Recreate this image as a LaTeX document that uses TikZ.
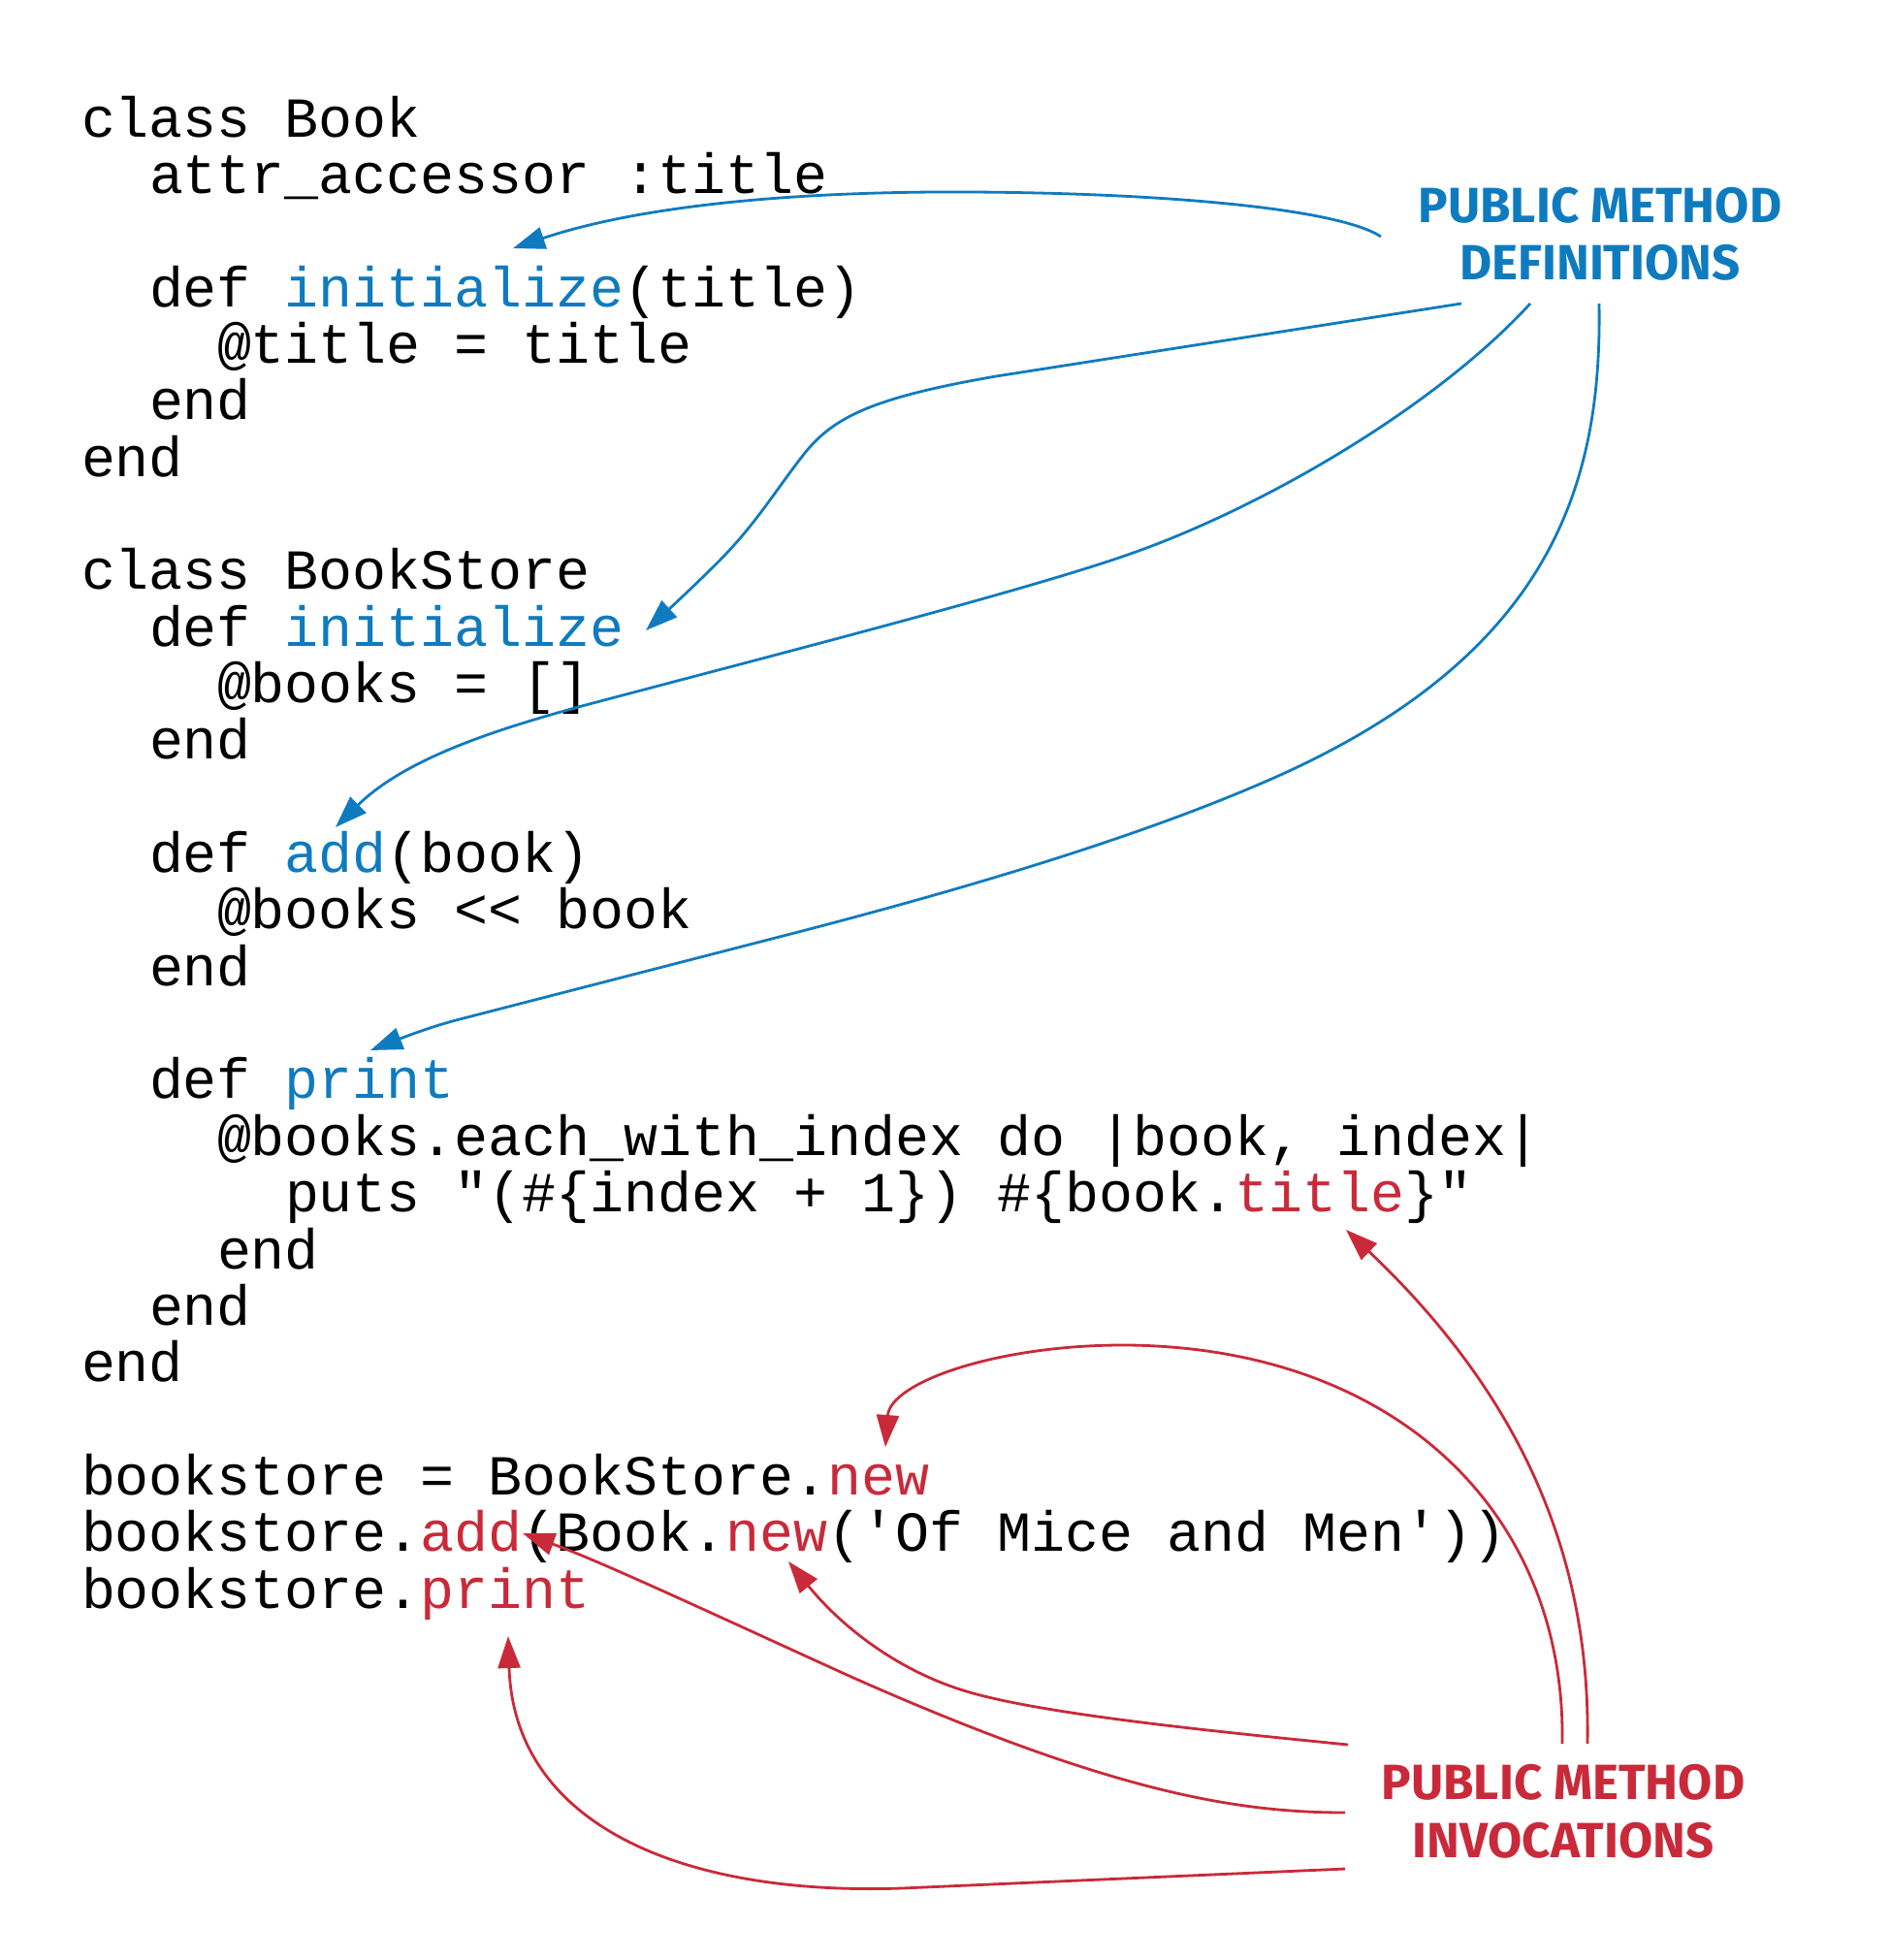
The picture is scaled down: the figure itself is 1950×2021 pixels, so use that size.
\documentclass[tikz,border=0pt]{standalone}
\usepackage{fontspec}
\setmonofont{Liberation Mono}
\newfontfamily\handfont{Fira Sans}
\usetikzlibrary{arrows.meta}
\definecolor{defblue}{RGB}{15,123,191}
\definecolor{callred}{RGB}{201,42,57}
\newcommand{\bw}[1]{\textcolor{defblue}{#1}}
\newcommand{\rw}[1]{\textcolor{callred}{#1}}
\tikzset{
  codeline/.style={anchor=base west, inner sep=0pt, outer sep=0pt,
    font=\fontsize{58.3}{58.3}\selectfont\ttfamily},
  handlabel/.style={anchor=base, inner sep=0pt, outer sep=0pt,
    font=\fontsize{51}{58}\selectfont\handfont\bfseries},
  conn/.style={line width=2.8pt, -{Triangle[length=33pt,width=23pt]}},
}
\begin{document}
\begin{tikzpicture}[x=1pt,y=-1pt]
\fill[white] (0,0) rectangle (1950,2021);
\useasboundingbox (0,0) rectangle (1950,2021);

% code
\node[codeline] (c1)  at (84,141)     {class Book};
\node[codeline] (c2)  at (154,199.35) {attr\_accessor :title};
\node[codeline] (c4)  at (154,316.05) {def \bw{initialize}(title)};
\node[codeline] (c5)  at (224,374.4)  {@title = title};
\node[codeline] (c6)  at (154,432.75) {end};
\node[codeline] (c7)  at (84,491.1)   {end};
\node[codeline] (c9)  at (84,607.8)   {class BookStore};
\node[codeline] (c10) at (154,666.15) {def \bw{initialize}};
\node[codeline] (c11) at (224,724.5)  {@books = []};
\node[codeline] (c12) at (154,782.85) {end};
\node[codeline] (c14) at (154,899.55) {def \bw{add}(book)};
\node[codeline] (c15) at (224,957.9)  {@books << book};
\node[codeline] (c16) at (154,1016.25){end};
\node[codeline] (c18) at (154,1132.95){def \bw{print}};
\node[codeline] (c19) at (224,1191.3) {@books.each\_with\_index do |book, index|};
\node[codeline] (c20) at (294,1249.65){puts "(\#\{index + 1\}) \#\{book.\rw{title}\}"};
\node[codeline] (c21) at (224,1308)   {end};
\node[codeline] (c22) at (154,1366.35){end};
\node[codeline] (c23) at (84,1424.7)  {end};
\node[codeline] (c25) at (84,1541.4)  {bookstore = BookStore.\rw{new}};
\node[codeline] (c26) at (84,1599.75) {bookstore.\rw{add}(Book.\rw{new}('Of Mice and Men'))};
\node[codeline] (c27) at (84,1658.1)  {bookstore.\rw{print}};

% labels
\node[handlabel, text=defblue] (defA) at (1650,229) {PUBLIC METHOD};
\node[handlabel, text=defblue] (defB) at (1650,288) {DEFINITIONS};
\node[handlabel, text=callred] (invA) at (1612,1855) {PUBLIC METHOD};
\node[handlabel, text=callred] (invB) at (1612,1915) {INVOCATIONS};

% connector ends
\coordinate (s1) at (1424,244);  \coordinate (t1) at (529,256);
\coordinate (s2) at (1507,313);  \coordinate (t2) at (666,650);
\coordinate (s3) at (1578,313);  \coordinate (t3) at (346,853);
\coordinate (s4) at (1649,313);  \coordinate (t4) at (382,1083);
\coordinate (r1s) at (1637,1798); \coordinate (r1t) at (1388,1268);
\coordinate (r2s) at (1611,1798); \coordinate (r2t) at (913,1492);
\coordinate (r3s) at (1390,1799); \coordinate (r3t) at (813,1610);
\coordinate (r4s) at (1387,1869); \coordinate (r4t) at (539,1581);
\coordinate (r5s) at (1387,1927); \coordinate (r5t) at (524,1687);

% blue connectors
\draw[conn, defblue] (s1) .. controls (1380,215) and (1200,199) .. (1000,198)
  .. controls (820,197) and (660,212) .. (t1);
\draw[conn, defblue] (s2) -- (1027,388) .. controls (900,410) and (860,430) .. (830,467)
  .. controls (800,505) and (780,540) .. (740,580)
  .. controls (715,605) and (690,628) .. (t2);
\draw[conn, defblue] (s3) .. controls (1480,420) and (1300,525) .. (1160,573)
  .. controls (1050,611) and (800,675) .. (600,728)
  .. controls (520,750) and (420,780) .. (t3);
\draw[conn, defblue] (s4) .. controls (1652,500) and (1600,680) .. (1300,808)
  .. controls (1170,864) and (1000,915) .. (827,960) -- (470,1052)
  .. controls (440,1060) and (410,1072) .. (t4);

% red connectors
\draw[conn, callred] (r1s) .. controls (1640,1620) and (1580,1450) .. (r1t);
\draw[conn, callred] (r2s) .. controls (1615,1560) and (1440,1390) .. (1163,1387)
  .. controls (1030,1386) and (918,1425) .. (r2t);
\draw[conn, callred] (r3s) .. controls (1250,1785) and (1080,1768) .. (1000,1745)
  .. controls (930,1725) and (870,1680) .. (r3t);
\draw[conn, callred] (r4s) .. controls (1270,1869) and (1140,1845) .. (880,1730)
  .. controls (750,1671) and (620,1610) .. (r4t);
\draw[conn, callred] (r5s) -- (930,1947) .. controls (700,1955) and (530,1880) .. (r5t);
\end{tikzpicture}
\end{document}
